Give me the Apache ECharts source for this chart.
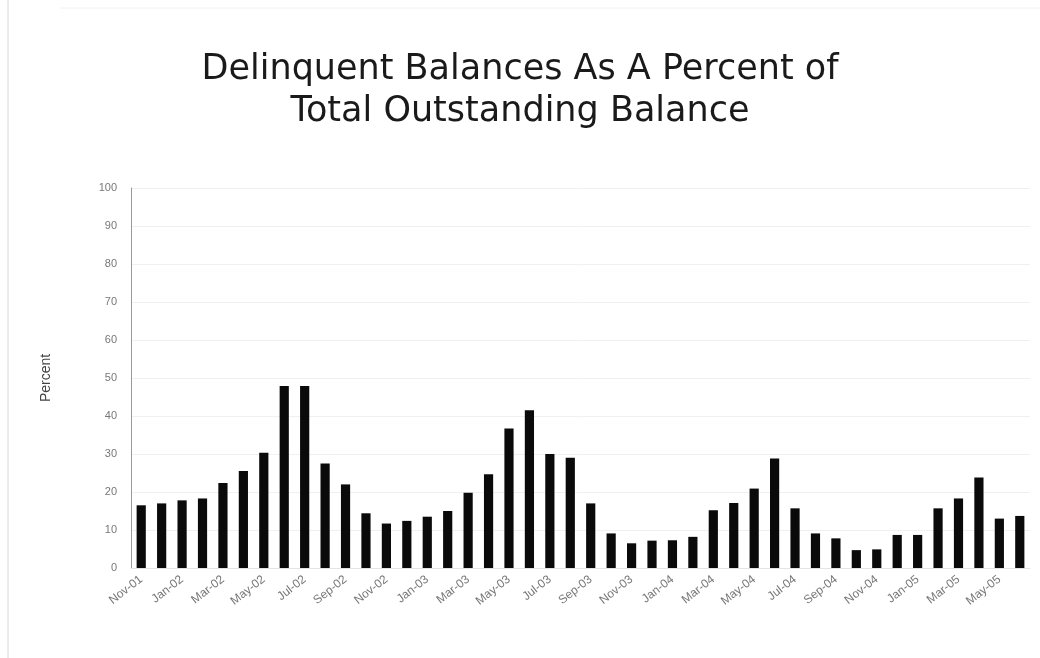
<!DOCTYPE html>
<html>
<head>
<meta charset="utf-8">
<script src="https://cdn.jsdelivr.net/npm/echarts@6/dist/echarts.min.js"></script>
<style>html,body{margin:0;padding:0;background:#fff}#c{width:1040px;height:658px}</style>
</head>
<body>
<div id="c"></div>
<script>
const categories = [
  'Nov-01','Dec-01',
  'Jan-02','Feb-02','Mar-02','Apr-02','May-02','Jun-02','Jul-02','Aug-02','Sep-02','Oct-02','Nov-02','Dec-02',
  'Jan-03','Feb-03','Mar-03','Apr-03','May-03','Jun-03','Jul-03','Aug-03','Sep-03','Oct-03','Nov-03','Dec-03',
  'Jan-04','Feb-04','Mar-04','Apr-04','May-04','Jun-04','Jul-04','Aug-04','Sep-04','Oct-04','Nov-04','Dec-04',
  'Jan-05','Feb-05','Mar-05','Apr-05','May-05','Jun-05'
];
const percentValues = [
  16.5, 17.0,
  17.8, 18.3, 22.4, 25.5, 30.3, 47.9, 47.9, 27.5, 22.0, 14.4, 11.7, 12.4,
  13.5, 15.0, 19.8, 24.7, 36.7, 41.5, 30.0, 29.0, 17.0, 9.1, 6.5, 7.2,
  7.3, 8.2, 15.2, 17.1, 20.9, 28.8, 15.7, 9.1, 7.8, 4.7, 4.9, 8.7,
  8.7, 15.7, 18.3, 23.8, 13.0, 13.7
];
const titleText = 'Delinquent Balances As A Percent of\nTotal Outstanding Balance';
const yAxisName = 'Percent';

const chart = echarts.init(document.getElementById('c'));
chart.setOption({
  backgroundColor: '#ffffff',
  animation: false,
  title: {
    text: titleText,
    left: 'center',
    top: 44,
    textStyle: { fontFamily: 'DejaVu Sans, Arial, sans-serif', fontSize: 35, fontWeight: 'normal', color: '#1a1a1a', lineHeight: 42 }
  },
  grid: { left: 131, right: 10, top: 188, bottom: 90, containLabel: false },
  xAxis: {
    type: 'category',
    data: categories,
    axisLine: { show: true, lineStyle: { color: '#e4e4e4' } },
    axisTick: { show: false },
    axisLabel: { interval: 1, rotate: 38, fontSize: 12, color: '#777', fontFamily: 'Liberation Sans, Arial, sans-serif', margin: 10 }
  },
  yAxis: {
    type: 'value',
    min: 0, max: 100, interval: 10,
    name: yAxisName,
    nameLocation: 'middle',
    nameRotate: 90,
    nameGap: 78,
    nameTextStyle: { fontSize: 14, color: '#444', fontFamily: 'Liberation Sans, Arial, sans-serif' },
    axisLine: { show: true, lineStyle: { color: '#999', width: 1 } },
    axisTick: { show: false },
    axisLabel: { fontSize: 11, color: '#777', fontFamily: 'Liberation Sans, Arial, sans-serif', margin: 14 },
    splitLine: { show: true, lineStyle: { color: '#f0f0f0', width: 1 } }
  },
  series: [{
    type: 'bar',
    data: percentValues,
    barWidth: '45%',
    itemStyle: { color: '#0a0a0a' }
  }],
  graphic: [
    { type: 'line', shape: { x1: 8, y1: 0, x2: 8, y2: 658 }, style: { stroke: '#d8d8d8', lineWidth: 1 } },
    { type: 'line', shape: { x1: 60, y1: 8, x2: 1040, y2: 8 }, style: { stroke: '#f0f0f0', lineWidth: 1 } }
  ]
});
</script>
</body>
</html>
